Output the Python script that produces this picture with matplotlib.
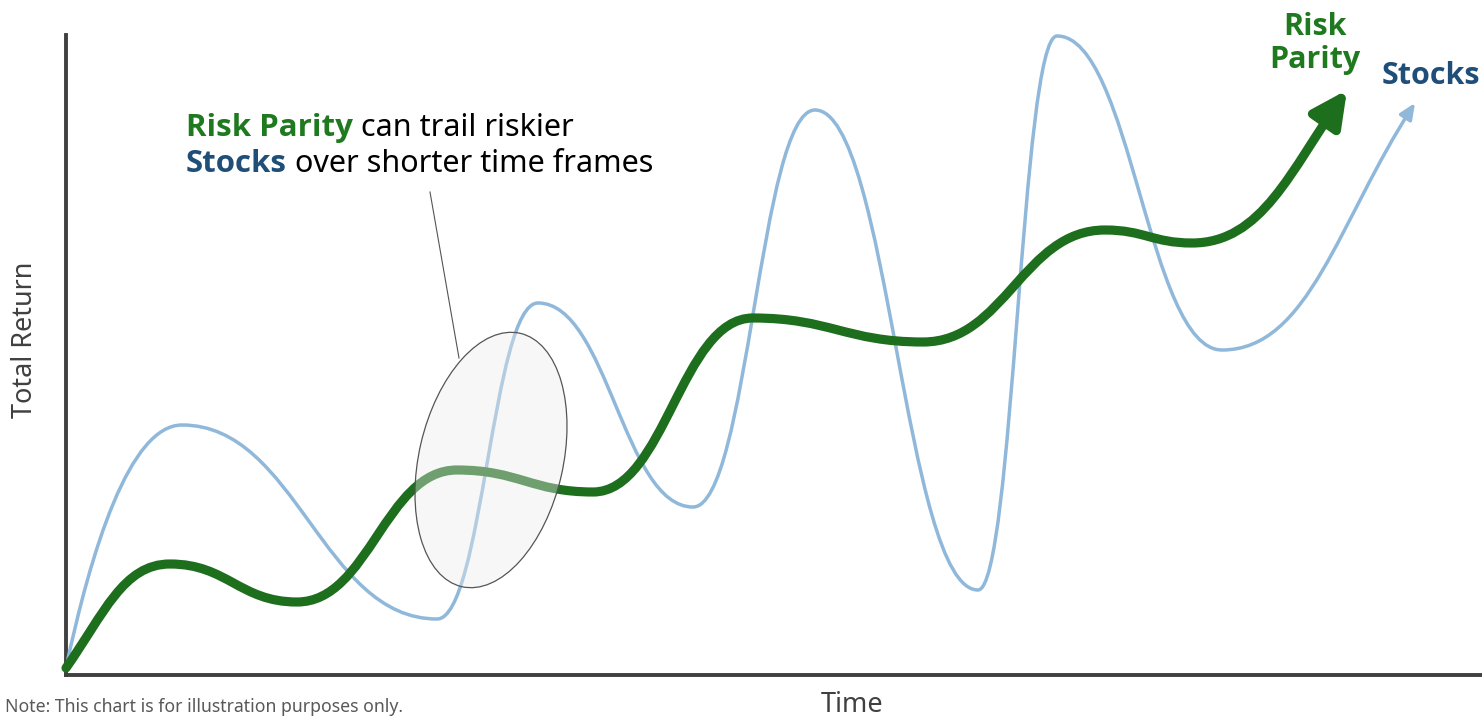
import numpy as np
import matplotlib.pyplot as plt
from matplotlib.path import Path
from matplotlib.patches import FancyArrowPatch, Ellipse, ArrowStyle

plt.rcParams['font.family'] = ['Noto Sans', 'DejaVu Sans']
BOLD_FONT = ['Open Sans', 'DejaVu Sans']

W, H = 1482, 717          # figure size in pixels
X0, Y0, YTOP = 66, 675, 35  # axes origin and top, in pixels

# Illustrative curves: key points (peaks, troughs, ends) as (time, total return)
# plus the tangent angle (deg) of the curve at each key point
stocks_t = [0, 116, 371, 472, 627, 749, 912, 991, 1156, 1349]
stocks_r = [7, 250, 56, 372, 168, 565, 85, 639, 325, 572]
stocks_ang = [78, 0, 0, 0, 0, 0, 0, 0, 0, 57]

rp_t = [0, 104, 231, 391, 527, 687, 857, 1039, 1126, 1281]
rp_r = [7, 111, 73, 205, 183, 357, 333, 445, 432, 585]
rp_ang = [55, 0, 0, 0, 0, 0, 0, 0, 0, 55]

# highlighted region (ellipse) and its call-out
ell_center = (425, 215)
ell_size = (144, 260)
ell_angle = -13
callout_t = [364, 393]
callout_r = [483, 317]

GREEN = '#1D6E1D'
GREEN_TXT = '#1F7A1F'
BLUE = '#8FB8DA'
BLUE_TXT = '#1F4E79'
AXIS = '#404040'


def smooth_path(t, r, ang, k=0.45):
    # cubic bezier through the key points with the given tangents
    verts = [(t[0], r[0])]
    codes = [Path.MOVETO]
    for i in range(len(t) - 1):
        dx = t[i + 1] - t[i]
        dist = np.hypot(dx, r[i + 1] - r[i])
        h = []
        for j in (i, i + 1):
            a = np.radians(ang[j])
            L = min(k * dx / abs(np.cos(a)), k * dist)
            h.append((L * np.cos(a), L * np.sin(a)))
        verts += [(t[i] + h[0][0], r[i] + h[0][1]),
                  (t[i + 1] - h[1][0], r[i + 1] - h[1][1]),
                  (t[i + 1], r[i + 1])]
        codes += [Path.CURVE4] * 3
    return Path(verts, codes)


fig = plt.figure(figsize=(W / 100, H / 100), dpi=100)
ax = fig.add_axes([X0 / W, (H - Y0) / H, (W - X0) / W, (Y0 - YTOP) / H])
ax.set_xlim(0, W - X0)
ax.set_ylim(0, Y0 - YTOP)
for s in ['top', 'right']:
    ax.spines[s].set_visible(False)
for s in ['left', 'bottom']:
    ax.spines[s].set_color(AXIS)
    ax.spines[s].set_linewidth(2.8)
ax.set_xticks([])
ax.set_yticks([])

stocks = FancyArrowPatch(path=smooth_path(stocks_t, stocks_r, stocks_ang),
                         arrowstyle=ArrowStyle('-|>', head_length=9.5, head_width=4.2),
                         mutation_scale=1, color=BLUE, lw=2.5, zorder=3, clip_on=False)
ax.add_patch(stocks)

rp = FancyArrowPatch(path=smooth_path(rp_t, rp_r, rp_ang),
                     arrowstyle=ArrowStyle('-|>', head_length=21, head_width=10.5),
                     mutation_scale=1, color=GREEN, lw=6.6, zorder=4, clip_on=False)
ax.add_patch(rp)

ell = Ellipse(ell_center, ell_size[0], ell_size[1], angle=ell_angle,
              facecolor=(0.92, 0.92, 0.92, 0.4), edgecolor='#555555', lw=0.9, zorder=5)
ax.add_patch(ell)
ax.plot(callout_t, callout_r, color='#555555', lw=0.8, zorder=5)


def fx(px):
    return px / W


def fy(py):
    return 1 - py / H


# call-out text, two lines with mixed colours
t1 = fig.text(fx(186), fy(136), 'Risk Parity', color=GREEN_TXT, fontsize=22.5,
              family=BOLD_FONT, fontweight='bold', va='baseline')
ax.annotate(' can trail riskier', xy=(1, 0), xycoords=t1, va='bottom', ha='left',
            fontsize=22, color='black', annotation_clip=False)
t2 = fig.text(fx(186), fy(172), 'Stocks', color=BLUE_TXT, fontsize=22.5,
              family=BOLD_FONT, fontweight='bold', va='baseline')
ax.annotate(' over shorter time frames', xy=(1, 0), xycoords=t2, va='bottom', ha='left',
            fontsize=22, color='black', annotation_clip=False)

# series labels at the arrow ends
fig.text(fx(1315), fy(35), 'Risk', color=GREEN_TXT, fontsize=22, family=BOLD_FONT,
         fontweight='bold', ha='center', va='baseline')
fig.text(fx(1315), fy(68), 'Parity', color=GREEN_TXT, fontsize=22, family=BOLD_FONT,
         fontweight='bold', ha='center', va='baseline')
fig.text(fx(1431), fy(84), 'Stocks', color=BLUE_TXT, fontsize=22, family=BOLD_FONT,
         fontweight='bold', ha='center', va='baseline')

# axis titles and note
fig.text(fx(25), fy(340), 'Total Return', rotation=90, fontsize=19.5, color=AXIS,
         ha='center', va='center')
fig.text(fx(852), fy(712), 'Time', fontsize=19.5, color=AXIS, ha='center', va='baseline')
fig.text(fx(5), fy(712), 'Note: This chart is for illustration purposes only.',
         fontsize=12.7, color='#595959', ha='left', va='baseline')

fig.savefig('out.png', dpi=100)
